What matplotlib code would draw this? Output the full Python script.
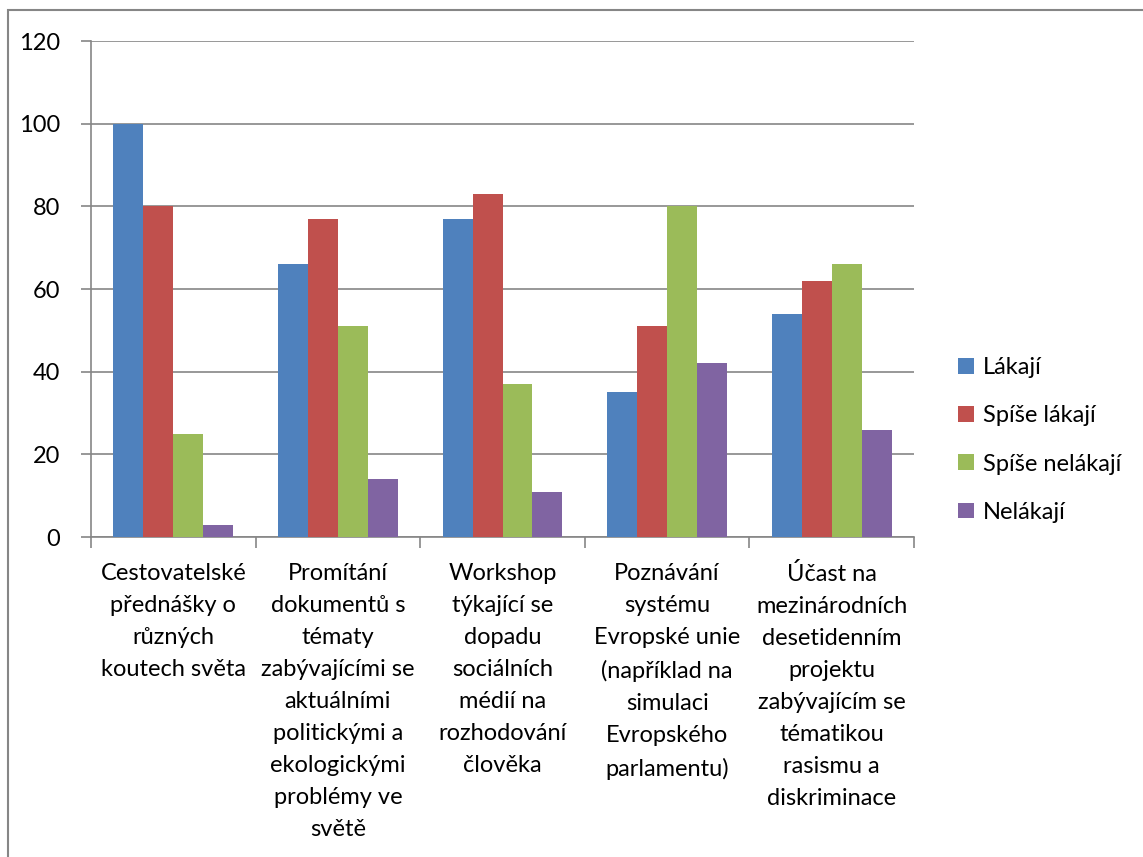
import matplotlib.pyplot as plt
import numpy as np

plt.rcParams['font.family'] = ['Lato', 'DejaVu Sans']

categories = [
    'Cestovatelské\npřednášky o\nrůzných\nkoutech světa',
    'Promítání\ndokumentů s\ntématy\nzabývajícími se\naktuálními\npolitickými a\nekologickými\nproblémy ve\nsvětě',
    'Workshop\ntýkající se\ndopadu\nsociálních\nmédií na\nrozhodování\nčlověka',
    'Poznávání\nsystému\nEvropské unie\n(například na\nsimulaci\nEvropského\nparlamentu)',
    'Účast na\nmezinárodních\ndesetidenním\nprojektu\nzabývajícím se\ntématikou\nrasismu a\ndiskriminace',
]
series_names = ['Lákají', 'Spíše lákají', 'Spíše nelákají', 'Nelákají']
lakaji = [100, 66, 77, 35, 54]
spise_lakaji = [80, 77, 83, 51, 62]
spise_nelakaji = [25, 51, 37, 80, 66]
nelakaji = [3, 14, 11, 42, 26]
yticks = [0, 20, 40, 60, 80, 100, 120]

colors = ['#4F81BD', '#C0504D', '#9BBB59', '#8064A2']
grid_col = '#868686'

fig = plt.figure(figsize=(11.43, 8.57), dpi=100)
ax = fig.add_axes([91 / 1143, 1 - 537 / 857, 823 / 1143, 496 / 857])

x = np.arange(len(categories))
w = 0.182
for i, vals in enumerate([lakaji, spise_lakaji, spise_nelakaji, nelakaji]):
    ax.bar(x + (i - 1.5) * w, vals, w, color=colors[i], label=series_names[i], zorder=3)

ax.set_xlim(-0.5, len(categories) - 0.5)
ax.set_ylim(0, 120)
ax.set_yticks(yticks)
ax.yaxis.grid(True, color=grid_col, linewidth=1.2, zorder=0)
for s in ['top', 'right']:
    ax.spines[s].set_visible(False)
for s in ['left', 'bottom']:
    ax.spines[s].set_color(grid_col)
    ax.spines[s].set_linewidth(1.2)

ax.tick_params(axis='y', length=7, width=1.2, color=grid_col, labelsize=17, pad=15)
ax.set_xticks(np.arange(len(categories) + 1) - 0.5)
ax.set_xticklabels([])
ax.tick_params(axis='x', length=8, width=1.2, color=grid_col)
for xi, lab in zip(x, categories):
    ax.text(xi, -0.052, lab, transform=ax.get_xaxis_transform(), ha='center', va='top',
            fontsize=17, linespacing=1.65)

ax.legend(loc='center left', bbox_to_anchor=(937 / 1143, 1 - 440 / 857),
          bbox_transform=fig.transFigure, frameon=False, fontsize=17,
          handlelength=0.65, handleheight=0.65, handletextpad=0.4, labelspacing=1.15)

# outer chart frame
fig.add_artist(plt.Rectangle((8 / 1143, -0.1), 1.2, 1 - 10 / 857 + 0.1, transform=fig.transFigure,
                             fill=False, edgecolor=grid_col, linewidth=1.5))

fig.savefig('out.png', dpi=100)
